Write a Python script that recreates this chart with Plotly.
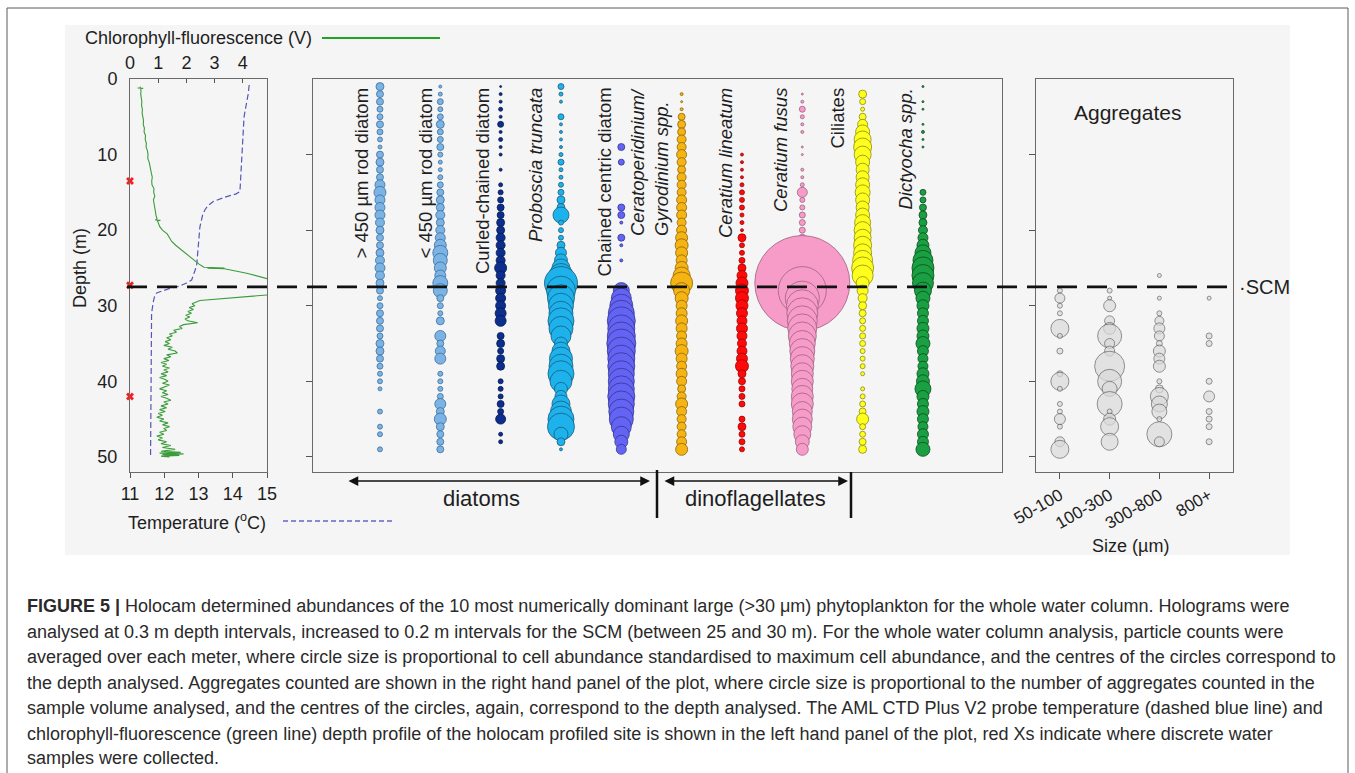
import plotly.graph_objects as go

W, H = 1355, 773

# ---------------- CTD profile (left panel) ----------------
temp_depth = [0.8, 2, 5, 8, 10, 12, 14, 14.9, 15.2, 15.6, 16.2, 16.8, 17.3, 18, 19.6, 21,
              23.1, 24.5, 25.3, 26, 26.6, 27, 27.4, 27.7, 28, 28.3, 28.7, 29.5, 31, 35, 40, 45, 50]
temp_c = [14.48, 14.45, 14.33, 14.29, 14.26, 14.24, 14.22, 14.21, 14.1, 13.8, 13.43, 13.27,
          13.19, 13.12, 13.04, 13.02, 12.99, 12.95, 12.9, 12.85, 12.8, 12.65, 12.45, 12.17,
          11.95, 11.78, 11.72, 11.68, 11.63, 11.62, 11.61, 11.6, 11.6]

chl_depth = [1.0, 1.15, 1.2, 1.22, 1.3, 1.6, 2.0, 2.5, 3.0, 3.5, 4.0, 4.5, 5.0, 5.5, 6.0, 6.5,
             7.0, 7.5, 8.0, 8.5, 9.0, 9.5, 10.0, 10.5, 11.0, 11.5, 12.0, 12.5, 13.0, 13.5, 14.0,
             14.5, 15.0, 15.5, 16.0, 16.5, 17.0, 17.5, 18.0, 18.5, 18.65, 18.7, 18.75, 19.0, 19.5,
             20.0, 20.5, 21.0, 21.5, 22.0, 22.5, 23.0, 23.5, 24.0, 24.2, 24.5, 24.8, 24.9, 25.0,
             25.05, 25.1, 25.7, 26.5, 27.0, 27.8, 28.5, 29.3, 29.5, 29.75, 30.0, 30.25, 30.5,
             30.75, 31.0, 31.25, 31.5, 31.75, 32.0, 32.25, 32.5, 32.75, 33.0, 33.25, 33.5, 33.75,
             34.0, 34.25, 34.5, 34.75, 35.0, 35.25, 35.5, 35.75, 36.0, 36.25, 36.5, 36.75, 37.0,
             37.25, 37.5, 37.75, 38.0, 38.25, 38.5, 38.75, 39.0, 39.25, 39.5, 39.75, 40.0, 40.25,
             40.5, 40.75, 41.0, 41.25, 41.5, 41.75, 42.0, 42.25, 42.5, 42.75, 43.0, 43.25, 43.5,
             43.75, 44.0, 44.25, 44.5, 44.75, 45.0, 45.25, 45.5, 45.75, 46.0, 46.25, 46.5, 46.75,
             47.0, 47.25, 47.5, 47.75, 48.0, 48.25, 48.5, 48.75, 49.0, 49.25, 49.4, 49.5, 49.6,
             49.7, 49.8, 49.9, 50.0]
chl_volts = [0.37, 0.36, 0.27, 0.47, 0.38, 0.39, 0.38, 0.40, 0.42, 0.41, 0.44, 0.43, 0.46, 0.48,
             0.47, 0.51, 0.50, 0.55, 0.54, 0.58, 0.57, 0.62, 0.64, 0.63, 0.68, 0.70, 0.72, 0.76,
             0.79, 0.77, 0.78, 0.85, 0.84, 0.88, 0.83, 0.86, 0.87, 0.90, 0.92, 0.96, 0.90, 1.08,
             0.97, 1.00, 1.05, 1.15, 1.32, 1.40, 1.48, 1.62, 1.78, 1.95, 2.10, 2.30, 2.35, 2.45,
             2.58, 2.62, 3.35, 2.75, 3.35, 4.14, 4.95, 5.6, 5.8, 5.1, 2.48, 2.35, 2.20, 2.30, 2.10,
             2.25, 2.05, 2.18, 1.98, 2.12, 1.95, 2.05, 2.40, 1.90, 1.75, 1.85, 1.55, 1.65, 1.40,
             1.50, 1.30, 1.45, 1.25, 1.40, 1.20, 1.50, 1.35, 1.60, 1.68, 1.30, 1.45, 1.20, 1.38,
             1.10, 1.30, 1.15, 1.40, 1.20, 1.35, 1.10, 1.30, 1.05, 1.25, 1.35, 1.15, 1.40, 1.20,
             1.05, 1.30, 1.15, 1.35, 1.10, 1.30, 1.45, 1.20, 1.35, 1.10, 1.30, 1.05, 1.25, 1.00,
             1.15, 0.95, 1.20, 1.05, 1.35, 1.15, 1.40, 1.20, 1.30, 1.05, 1.20, 0.95, 1.15, 1.00,
             1.30, 1.10, 1.45, 1.15, 1.60, 1.10, 1.80, 1.05, 1.90, 1.15, 1.75, 1.10, 1.40]

sample_depths = [13.5, 27.3, 42.0]   # discrete water samples (red X)
scm_depth = 27.5

temp_ticks = [11, 12, 13, 14, 15]
chl_ticks = [0, 1, 2, 3, 4]
depth_ticks = [0, 10, 20, 30, 40, 50]

# ---------------- Holocam abundances (centre panel) ----------------
# relative abundance per 1 m depth bin (scaled units)
rod_gt450_depth = list(range(1, 42)) + [44, 46, 47, 49]
rod_gt450_abund = [8, 7, 7, 6, 6, 7, 6, 5, 4, 7, 8, 7, 7, 10, 12, 10, 10, 10, 9, 8, 7, 7, 8, 9, 10,
                   9, 8, 7, 5, 6, 7, 7, 7, 6, 8, 8, 7, 6, 5, 5, 4, 5, 5, 5, 5]

rod_lt450_depth = list(range(1, 33)) + [34, 35, 36, 37, 39, 40, 41, 42, 43, 44, 45, 46, 47, 48, 49]
rod_lt450_abund = [3, 4, 6, 5, 6, 8, 6, 6, 7, 5, 4, 4, 5, 6, 7, 8, 8, 9, 8, 9, 10, 12, 15, 14,
                   12, 11, 15, 14, 7, 6, 5, 8, 11, 7, 10, 11, 5, 5, 5, 6, 11, 8, 12, 8, 7, 7, 7]

curled_depth = [1, 2, 3, 4, 5, 6, 7, 8, 9, 10, 12, 14, 15, 16, 17, 18, 19, 20, 21, 22, 23, 24, 25,
                26, 27, 28, 29, 30, 31, 32, 34, 35, 36, 37, 38, 40, 41, 42, 43, 44, 45, 47, 48]
curled_abund = [2, 3, 3, 4, 3, 6, 3, 4, 3, 3, 3, 4, 5, 6, 7, 7, 8, 8, 9, 9, 9, 9, 12, 9, 9, 10,
                10, 10, 11, 11, 7, 8, 6, 8, 8, 5, 5, 5, 7, 6, 10, 4, 4]

proboscia_depth = [1, 2, 3, 5, 6, 7, 8, 9, 10, 11, 12, 13, 14, 15, 16, 17, 18, 19, 20, 21, 22, 23,
                   24, 25, 26, 27, 28, 29, 30, 31, 32, 33, 34, 35, 36, 37, 38, 39, 40, 41, 42, 43,
                   44, 45, 46, 47, 48, 49]
proboscia_abund = [6, 4, 3, 6, 3, 3, 3, 3, 4, 6, 4, 4, 5, 6, 8, 8, 16, 5, 5, 5, 8, 11, 13, 18, 24,
                   33, 29, 27, 25, 24, 26, 24, 20, 13, 18, 23, 24, 26, 22, 13, 12, 18, 21, 26, 27,
                   14, 8, 3]

centric_depth = [9, 11, 17, 18, 19, 21, 22, 24, 28, 29, 30, 31, 32, 33, 34, 35, 36, 37, 38, 39, 40,
                 41, 42, 43, 44, 45, 46, 47, 48, 49]
centric_abund = [7, 6, 7, 7, 3, 7, 3, 3, 16, 20, 23, 26, 28, 27, 28, 29, 28, 27, 27, 26, 26, 26,
                 27, 26, 25, 24, 20, 16, 13, 10]

gyro_depth = list(range(2, 50))
gyro_abund = [3, 2, 3, 7, 8, 8, 9, 9, 10, 9, 8, 9, 9, 9, 10, 10, 10, 9, 10, 12, 13, 12, 11, 13, 17,
              22, 16, 13, 11, 11, 12, 11, 10, 11, 13, 11, 10, 11, 10, 8, 9, 12, 10, 9, 9, 9, 10, 12]

lineatum_depth = list(range(10, 44)) + [45, 46, 47, 48, 49]
lineatum_abund = [3, 3, 3, 3, 4, 5, 5, 5, 4, 4, 3, 8, 5, 5, 6, 8, 10, 12, 13, 13, 12, 11, 10, 11,
                  10, 9, 10, 11, 13, 8, 7, 6, 6, 6, 6, 8, 6, 6, 5]

fusus_depth = [2, 3, 4, 5, 6, 7, 9, 10, 12, 13, 14, 15, 16, 17, 18, 19, 20, 21, 22, 23, 24, 25, 26,
               27, 28, 29, 30, 31, 32, 33, 34, 35, 36, 37, 38, 39, 40, 41, 42, 43, 44, 45, 46, 47,
               48, 49]
fusus_abund = [2, 3, 6, 4, 3, 3, 2, 2, 3, 3, 4, 10, 5, 5, 6, 6, 6, 7, 7, 7, 8, 8, 10, 95, 48, 34,
               32, 31, 30, 29, 28, 26, 25, 24, 23, 22, 22, 21, 22, 22, 20, 20, 19, 17, 14, 12]

ciliate_depth = list(range(2, 40)) + [41, 42, 43, 44, 45, 46, 47, 48, 49]
ciliate_abund = [8, 6, 4, 7, 10, 14, 17, 18, 17, 14, 13, 13, 14, 15, 14, 13, 14, 16, 17, 17, 18,
                 18, 20, 22, 21, 13, 11, 9, 8, 7, 6, 6, 6, 6, 5, 5, 5, 4, 4, 5, 6, 7, 12, 6, 6,
                 7, 8]

dictyocha_depth = [1, 3, 4, 6, 7, 8, 9] + list(range(15, 50))
dictyocha_abund = [2, 2, 2, 2, 3, 2, 2, 6, 6, 7, 8, 8, 9, 10, 12, 16, 20, 22, 22, 21, 17, 14, 12,
                   11, 11, 12, 12, 14, 11, 10, 10, 12, 13, 16, 12, 11, 12, 11, 10, 11, 11, 14]

species_labels = ["> 450 µm rod diatom", "< 450 µm rod diatom", "Curled-chained diatom",
                  "<i>Proboscia truncata</i>", "Chained centric diatom",
                  "<i>Ceratoperidinium/</i><br><i>Gyrodinium spp.</i>", "<i>Ceratium lineatum</i>",
                  "<i>Ceratium fusus</i>", "Ciliates", "<i>Dictyocha spp.</i>"]

# ---------------- Aggregates (right panel) ----------------
size_classes = ["50-100", "100-300", "300-800", "800+"]
agg_50_100_depth = [28, 29, 30, 31, 33, 34, 36, 39, 40, 41, 43, 44, 45, 46, 48, 49]
agg_50_100_count = [5, 10, 5, 5, 18, 5, 6, 6, 18, 5, 5, 5, 11, 5, 10, 18]
agg_100_300_depth = [28, 29, 30, 32, 33, 34, 35, 36, 38, 40, 41, 43, 44, 45, 46, 48]
agg_100_300_count = [5, 4, 12, 10, 12, 24, 10, 10, 30, 24, 15, 25, 5, 12, 18, 17]
agg_300_800_depth = [26, 29, 31, 32, 33, 34, 35, 36, 37, 38, 40, 41, 42, 43, 44, 45, 47, 48]
agg_300_800_count = [4, 4, 5, 9, 11, 10, 6, 12, 11, 12, 5, 8, 18, 16, 15, 5, 25, 10]
agg_800_depth = [29, 34, 35, 40, 42, 44, 45, 46, 48]
agg_800_count = [4, 6, 6, 6, 11, 6, 6, 6, 6]

# ---------------- styling ----------------
FONT = "Liberation Sans, Arial, sans-serif"
INK = "#1e1e1e"


def pxx(x):
    return x / W


def pxy(y):
    return 1 - y / H


species = [
    (rod_gt450_depth, rod_gt450_abund, "#7ab3e4", "#3d6e9c"),
    (rod_lt450_depth, rod_lt450_abund, "#7ab3e4", "#3d6e9c"),
    (curled_depth, curled_abund, "#0c2f8e", "#05184f"),
    (proboscia_depth, proboscia_abund, "#1db2eb", "#1a5c7a"),
    (centric_depth, centric_abund, "#6464f4", "#35358f"),
    (gyro_depth, gyro_abund, "#f6b414", "#8a6404"),
    (lineatum_depth, lineatum_abund, "#fe0a0a", "#9a0505"),
    (fusus_depth, fusus_abund, "#f79bc9", "#9c6580"),
    (ciliate_depth, ciliate_abund, "#ffff1e", "#8a8a10"),
    (dictyocha_depth, dictyocha_abund, "#1aa043", "#0b4d20"),
]

aggregates = [
    (agg_50_100_depth, agg_50_100_count),
    (agg_100_300_depth, agg_100_300_count),
    (agg_300_800_depth, agg_300_800_count),
    (agg_800_depth, agg_800_count),
]

fig = go.Figure()

# CTD lines
fig.add_trace(go.Scatter(x=temp_c, y=temp_depth, xaxis="x", yaxis="y", mode="lines",
                         line=dict(color="#5656b8", width=1.2, dash="6px,3px"),
                         hoverinfo="skip", showlegend=False))
fig.add_trace(go.Scatter(x=chl_volts, y=chl_depth, xaxis="x2", yaxis="y", mode="lines",
                         line=dict(color="#3a9c3a", width=1.1),
                         hoverinfo="skip", showlegend=False))
fig.add_trace(go.Scatter(x=[temp_ticks[0]] * len(sample_depths), y=sample_depths, xaxis="x",
                         yaxis="y", mode="markers", cliponaxis=False,
                         marker=dict(symbol="x", size=7, color="#ff1a1a",
                                     line=dict(width=0)),
                         hoverinfo="skip", showlegend=False))

# Holocam bubbles
for i, (dep, ab, fill, edge) in enumerate(species):
    fig.add_trace(go.Scatter(x=[i] * len(dep), y=dep, xaxis="x3", yaxis="y3", mode="markers",
                             cliponaxis=False,
                             marker=dict(size=ab, sizemode="diameter", sizeref=1, color=fill,
                                         opacity=1, line=dict(color=edge, width=0.8)),
                             hoverinfo="skip", showlegend=False))

# Aggregate bubbles
for i, (dep, cnt) in enumerate(aggregates):
    fig.add_trace(go.Scatter(x=[i] * len(dep), y=dep, xaxis="x4", yaxis="y4", mode="markers",
                             cliponaxis=False,
                             marker=dict(size=cnt, sizemode="diameter", sizeref=1,
                                         color="#dadada", line=dict(color="#555555", width=0.9)),
                             hoverinfo="skip", showlegend=False))

y_dom = [pxy(472), pxy(79)]
frame = dict(showline=True, linecolor="#6a6a6a", linewidth=1, mirror=True,
             showgrid=False, zeroline=False, automargin=False)
tick_font = dict(family=FONT, size=18, color=INK)

fig.update_layout(
    width=W, height=H, autosize=False,
    margin=dict(l=0, r=0, t=0, b=0, pad=0, autoexpand=False),
    paper_bgcolor="white", plot_bgcolor="rgba(0,0,0,0)",
    font=dict(family=FONT, color=INK),
    xaxis=dict(domain=[pxx(130), pxx(267)], range=[11, 15], anchor="y", tickvals=temp_ticks,
               ticks="outside", ticklen=5, tickcolor="#555", tickfont=tick_font, **frame),
    xaxis2=dict(overlaying="x", side="top", range=[0, 4.86], anchor="y", tickvals=chl_ticks,
                ticks="inside", ticklen=4, tickcolor="#555", tickfont=tick_font,
                ticklabelstandoff=5, automargin=False,
                showline=False, showgrid=False, zeroline=False),
    yaxis=dict(domain=y_dom, range=[52, 0], anchor="x", tickvals=depth_ticks, ticks="",
               ticklabelstandoff=8, tickfont=tick_font, **frame),
    xaxis3=dict(domain=[pxx(313), pxx(1002)], range=[-1.11, 10.31], anchor="y3",
                showticklabels=False, ticks="", **frame),
    yaxis3=dict(domain=y_dom, range=[52, 0], anchor="x3", tickvals=depth_ticks[1:],
                ticks="outside", ticklen=6, tickcolor="#555", showticklabels=False, **frame),
    xaxis4=dict(domain=[pxx(1036), pxx(1233)], range=[-0.48, 3.48], anchor="y4",
                tickvals=[0, 1, 2, 3], ticktext=size_classes, ticks="outside", ticklen=6,
                tickcolor="#555", tickangle=-30, tickfont=dict(family=FONT, size=17, color=INK),
                **frame),
    yaxis4=dict(domain=y_dom, range=[52, 0], anchor="x4", tickvals=depth_ticks[1:],
                ticks="outside", ticklen=6, tickcolor="#555", showticklabels=False, **frame),
)

shapes = [
    # figure backdrop
    dict(type="rect", xref="paper", yref="paper", x0=pxx(65), x1=pxx(1290), y0=pxy(555),
         y1=pxy(25), fillcolor="#f5f5f5", line=dict(width=0), layer="below"),
    # outer frame
    dict(type="rect", xref="paper", yref="paper", x0=pxx(7), x1=pxx(1348), y0=pxy(790),
         y1=pxy(8), fillcolor="rgba(0,0,0,0)", line=dict(color="#5a5a5a", width=1),
         layer="below"),
    # SCM line
    dict(type="line", xref="paper", yref="y", x0=pxx(127), x1=pxx(1237), y0=scm_depth,
         y1=scm_depth, line=dict(color="#111", width=2.6, dash="20px,10px")),
    # legend keys
    dict(type="line", xref="paper", yref="paper", x0=pxx(322), x1=pxx(440), y0=pxy(38),
         y1=pxy(38), line=dict(color="#1fa51f", width=2)),
    dict(type="line", xref="paper", yref="paper", x0=pxx(283), x1=pxx(392), y0=pxy(521),
         y1=pxy(521), line=dict(color="#6464c8", width=1.6, dash="5px,3px")),
    # group separators
    dict(type="line", xref="paper", yref="paper", x0=pxx(657), x1=pxx(657), y0=pxy(470),
         y1=pxy(518), line=dict(color="#111", width=2.5)),
    dict(type="line", xref="paper", yref="paper", x0=pxx(851), x1=pxx(851), y0=pxy(472),
         y1=pxy(518), line=dict(color="#111", width=2.5)),
]

annotations = []


def note(text, x, y, size, xanchor="center", yanchor="middle", angle=0, align="center",
         color=INK):
    annotations.append(dict(text=text, x=pxx(x), y=pxy(y), xref="paper", yref="paper",
                            showarrow=False, xanchor=xanchor, yanchor=yanchor,
                            textangle=angle, align=align,
                            font=dict(family=FONT, size=size, color=color)))


label_x = [361, 425, 482, 535, 604, 649, 725, 780, 837, 905]
for lab, lx in zip(species_labels, label_x):
    note(lab, lx, 86, 18.5, yanchor="top", angle=-90, align="left")

note("Chlorophyll-fluorescence (V)", 83, 38, 18, xanchor="left")
note("Temperature (<sup>o</sup>C)", 126, 521, 18, xanchor="left")
note("Depth (m)", 80, 268, 18, angle=-90)
note("Aggregates", 1127, 113, 21)
note("Size (µm)", 1130, 546, 18)
note("·SCM", 1237, 287, 20, xanchor="left")
note("diatoms", 481, 498, 22)
note("dinoflagellates", 755, 498, 22)

# double-headed group arrows
for x0, x1 in [(347, 650), (663, 848)]:
    annotations.append(dict(x=pxx(x1), y=pxy(481), ax=x0 - x1, ay=0, xref="paper",
                            yref="paper", axref="pixel", ayref="pixel", text="",
                            showarrow=True, arrowhead=2, startarrowhead=2,
                            arrowside="end+start", arrowsize=1.3, startarrowsize=1.3,
                            arrowwidth=1.5, arrowcolor="#111"))

caption = [
    "<b>FIGURE 5 |</b> Holocam determined abundances of the 10 most numerically dominant large (>30 μm) phytoplankton for the whole water column. Holograms were",
    "analysed at 0.3 m depth intervals, increased to 0.2 m intervals for the SCM (between 25 and 30 m). For the whole water column analysis, particle counts were",
    "averaged over each meter, where circle size is proportional to cell abundance standardised to maximum cell abundance, and the centres of the circles correspond to",
    "the depth analysed. Aggregates counted are shown in the right hand panel of the plot, where circle size is proportional to the number of aggregates counted in the",
    "sample volume analysed, and the centres of the circles, again, correspond to the depth analysed. The AML CTD Plus V2 probe temperature (dashed blue line) and",
    "chlorophyll-fluorescence (green line) depth profile of the holocam profiled site is shown in the left hand panel of the plot, red Xs indicate where discrete water",
    "samples were collected.",
]
cap_y = [606, 632, 657, 683, 708, 734, 758]
for line, cy in zip(caption, cap_y):
    annotations.append(dict(text=line, x=pxx(25), y=pxy(cy), xref="paper", yref="paper",
                            showarrow=False, xanchor="left", yanchor="middle", align="left",
                            font=dict(family=FONT, size=18, color="#2a2a2a")))

fig.update_layout(shapes=shapes, annotations=annotations)

fig.write_html("out.html", config={"displayModeBar": False, "responsive": False})
